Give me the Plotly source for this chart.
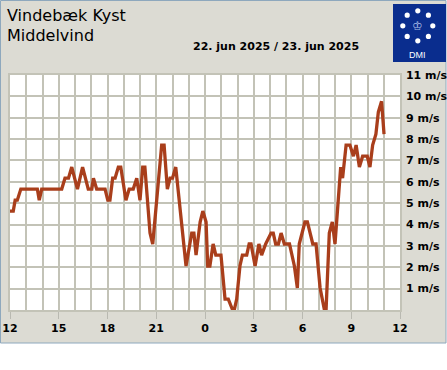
import math
import plotly.graph_objects as go

# ---------------- data ----------------
times = [
    "2025-06-22 12:00", "2025-06-22 12:12", "2025-06-22 12:19", "2025-06-22 12:27", "2025-06-22 12:40",
    "2025-06-22 13:41", "2025-06-22 13:48", "2025-06-22 13:57", "2025-06-22 15:11", "2025-06-22 15:23",
    "2025-06-22 15:36", "2025-06-22 15:48", "2025-06-22 16:09", "2025-06-22 16:28", "2025-06-22 16:49",
    "2025-06-22 17:02", "2025-06-22 17:08", "2025-06-22 17:20", "2025-06-22 17:51", "2025-06-22 18:01",
    "2025-06-22 18:09", "2025-06-22 18:19", "2025-06-22 18:28", "2025-06-22 18:40", "2025-06-22 18:49",
    "2025-06-22 19:08", "2025-06-22 19:20", "2025-06-22 19:35", "2025-06-22 19:48", "2025-06-22 20:00",
    "2025-06-22 20:10", "2025-06-22 20:18", "2025-06-22 20:37", "2025-06-22 20:47", "2025-06-22 21:20",
    "2025-06-22 21:29", "2025-06-22 21:41", "2025-06-22 21:51", "2025-06-22 22:00", "2025-06-22 22:12",
    "2025-06-22 22:50", "2025-06-22 23:11", "2025-06-22 23:19", "2025-06-22 23:27", "2025-06-22 23:42",
    "2025-06-22 23:52", "2025-06-23 00:04", "2025-06-23 00:10", "2025-06-23 00:18", "2025-06-23 00:30",
    "2025-06-23 00:40", "2025-06-23 00:59", "2025-06-23 01:14", "2025-06-23 01:26", "2025-06-23 01:42",
    "2025-06-23 01:48", "2025-06-23 01:57", "2025-06-23 02:09", "2025-06-23 02:18", "2025-06-23 02:34",
    "2025-06-23 02:43", "2025-06-23 02:50", "2025-06-23 03:05", "2025-06-23 03:19", "2025-06-23 03:29",
    "2025-06-23 03:44", "2025-06-23 04:04", "2025-06-23 04:12", "2025-06-23 04:21", "2025-06-23 04:31",
    "2025-06-23 04:41", "2025-06-23 04:53", "2025-06-23 05:12", "2025-06-23 05:30", "2025-06-23 05:41",
    "2025-06-23 05:48", "2025-06-23 06:09", "2025-06-23 06:18", "2025-06-23 06:38", "2025-06-23 06:50",
    "2025-06-23 07:05", "2025-06-23 07:21", "2025-06-23 07:27", "2025-06-23 07:39", "2025-06-23 07:50",
    "2025-06-23 08:00", "2025-06-23 08:21", "2025-06-23 08:28", "2025-06-23 08:41", "2025-06-23 08:55",
    "2025-06-23 09:08", "2025-06-23 09:18", "2025-06-23 09:30", "2025-06-23 09:42", "2025-06-23 09:59",
    "2025-06-23 10:09", "2025-06-23 10:19", "2025-06-23 10:31", "2025-06-23 10:40", "2025-06-23 10:52",
    "2025-06-23 11:01",
]
wind_ms = [
    4.63, 4.63, 5.14, 5.14, 5.66,
    5.66, 5.14, 5.66, 5.66, 6.17,
    6.17, 6.69, 5.66, 6.69, 5.66,
    5.66, 6.17, 5.66, 5.66, 5.14,
    5.14, 6.17, 6.17, 6.69, 6.69,
    5.14, 5.66, 5.66, 6.17, 5.14,
    6.69, 6.69, 3.60, 3.09, 7.72,
    7.72, 5.66, 6.17, 6.17, 6.69,
    2.06, 3.60, 3.60, 2.57, 4.12,
    4.63, 4.12, 2.06, 2.06, 3.09,
    2.57, 2.57, 0.51, 0.51, 0.00,
    0.00, 0.51, 2.06, 2.57, 2.57,
    3.09, 3.09, 2.06, 3.09, 2.57,
    3.09, 3.60, 3.60, 3.09, 3.09,
    3.60, 3.09, 3.09, 2.06, 1.03,
    3.09, 4.12, 4.12, 3.09, 3.09,
    1.03, 0.00, 0.00, 3.60, 4.12,
    3.09, 6.69, 6.17, 7.72, 7.72,
    7.20, 7.72, 6.69, 7.20, 7.20,
    6.69, 7.72, 8.23, 9.26, 9.77,
    8.23,
]

arrow_times = [
    "2025-06-22 12:00", "2025-06-22 13:00", "2025-06-22 14:00", "2025-06-22 15:00",
    "2025-06-22 16:00", "2025-06-22 17:00", "2025-06-22 18:00", "2025-06-22 19:00",
    "2025-06-22 20:00", "2025-06-22 21:00", "2025-06-22 22:00", "2025-06-22 23:00",
    "2025-06-23 00:00", "2025-06-23 01:00", "2025-06-23 02:00", "2025-06-23 03:00",
    "2025-06-23 04:00", "2025-06-23 05:00", "2025-06-23 07:00", "2025-06-23 08:00",
    "2025-06-23 09:00", "2025-06-23 10:00", "2025-06-23 11:00",
]
arrow_glyphs = [
    "←", "←", "←", "←", "←", "←", "←", "←", "←", "←", "↖", "←",
    "↗", "↘", "→", "→", "→", "→", "↗", "↗", "↗", "↗", "↗",
]

y_tickvals = [1, 2, 3, 4, 5, 6, 7, 8, 9, 10, 11]
y_ticktext = ["1 m/s", "2 m/s", "3 m/s", "4 m/s", "5 m/s", "6 m/s", "7 m/s",
              "8 m/s", "9 m/s", "10 m/s", "11 m/s"]

station = "Vindebæk Kyst"
parameter = "Middelvind"
date_text = "22. jun 2025 / 23. jun 2025"

# ---------------- layout helpers ----------------
W, H = 447, 370
L, R, T, B = 10, 47, 75, 60
PW, PH = W - L - R, H - T - B


def px(xp):
    return (xp - L) / PW


def py(yp):
    return (H - B - yp) / PH


FONT = "DejaVu Sans"
GRID = "#c3c3b7"
FRAME_BG = "#dcdbd3"

fig = go.Figure()

fig.add_trace(go.Scatter(
    x=times, y=wind_ms, mode="lines",
    line=dict(color="#a93e1b", width=3.3),
    hoverinfo="skip", showlegend=False,
))

fig.add_trace(go.Scatter(
    x=arrow_times, y=[11.38] * len(arrow_times), mode="text",
    text=arrow_glyphs, textposition="middle center",
    textfont=dict(family=FONT, size=13, color="#6e6e6e", weight="bold"),
    cliponaxis=False, hoverinfo="skip", showlegend=False,
))

shapes = [
    dict(type="rect", xref="paper", yref="paper", layer="below",
         x0=px(0.5), x1=px(446), y0=py(343), y1=py(0.5),
         fillcolor=FRAME_BG, line=dict(color="#8ea8bd", width=1)),
    dict(type="rect", xref="paper", yref="paper", layer="below",
         x0=0, x1=1, y0=0, y1=1, fillcolor="white", line=dict(width=0)),
    dict(type="rect", xref="paper", yref="paper", layer="below",
         x0=px(393), x1=px(446), y0=py(62), y1=py(4),
         fillcolor="#0a2d8e", line=dict(width=0)),
]
cx, cy, rad = 417.8, 25.8, 15
for k in range(8):
    a = math.radians(90 - 45 * k)
    dx, dy = cx + rad * math.cos(a), cy - rad * math.sin(a)
    shapes.append(dict(type="circle", xref="paper", yref="paper", layer="below",
                       xsizemode="pixel", ysizemode="pixel",
                       xanchor=px(dx), yanchor=py(dy),
                       x0=-2.6, x1=2.6, y0=-2.6, y1=2.6,
                       fillcolor="white", line=dict(width=0)))

annotations = [
    dict(text=station, xref="paper", yref="paper", x=px(5), y=py(16),
         xanchor="left", yanchor="middle", showarrow=False,
         font=dict(family=FONT, size=16, color="black")),
    dict(text=parameter, xref="paper", yref="paper", x=px(5), y=py(35.5),
         xanchor="left", yanchor="middle", showarrow=False,
         font=dict(family=FONT, size=16, color="black")),
    dict(text=date_text, xref="paper", yref="paper", x=px(276), y=py(46.5),
         xanchor="center", yanchor="middle", showarrow=False,
         font=dict(family=FONT, size=11, color="black", weight="bold")),
    dict(text="♔", xref="paper", yref="paper", x=px(cx), y=py(cy),
         xanchor="center", yanchor="middle", showarrow=False,
         font=dict(family=FONT, size=12, color="#a9bde6")),
    dict(text="DMI", xref="paper", yref="paper", x=px(417.7), y=py(54.5),
         xanchor="center", yanchor="middle", showarrow=False,
         font=dict(family="Liberation Sans", size=9, color="white")),
]

fig.update_layout(
    width=W, height=H, autosize=False,
    margin=dict(l=L, r=R, t=T, b=B, pad=0, autoexpand=False),
    paper_bgcolor="white", plot_bgcolor="white",
    shapes=shapes, annotations=annotations, showlegend=False,
    xaxis=dict(
        type="date", range=["2025-06-22 12:00", "2025-06-23 12:00"],
        tick0="2025-06-22 12:00", dtick=3 * 3600000, tickformat="%-H",
        ticks="outside", ticklen=7, tickcolor="#b9b9b1", tickwidth=1,
        showgrid=True, gridcolor=GRID, gridwidth=1.5,
        minor=dict(dtick=3600000, showgrid=True, gridcolor=GRID, gridwidth=1.5, ticks=""),
        showline=True, linecolor=GRID, linewidth=1.5, mirror=True,
        zeroline=False, fixedrange=True, automargin=False,
        tickfont=dict(family=FONT, size=11, color="black", weight="bold"),
    ),
    yaxis=dict(
        range=[0, 11], side="right",
        tickmode="array", tickvals=y_tickvals, ticktext=y_ticktext,
        ticks="", ticklabelstandoff=2,
        showgrid=True, gridcolor=GRID, gridwidth=1.5,
        showline=True, linecolor=GRID, linewidth=1.5, mirror=True,
        zeroline=False, fixedrange=True, automargin=False,
        tickfont=dict(family=FONT, size=11, color="black", weight="bold"),
    ),
)

fig.write_html(
    "out.html",
    config={"responsive": False, "displayModeBar": False},
    post_script="document.body.style.margin='0';document.body.style.overflow='hidden';",
)
